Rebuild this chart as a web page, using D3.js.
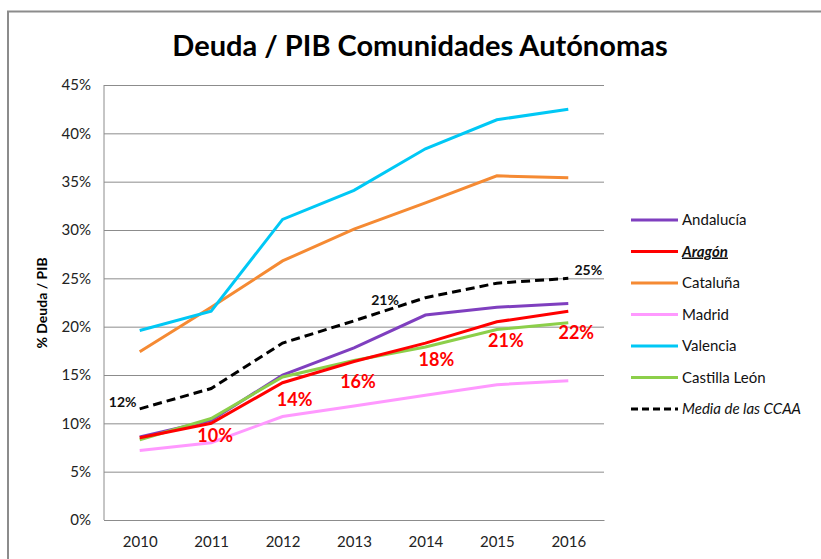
<!DOCTYPE html>
<html><head><meta charset="utf-8">
<script src="https://cdn.jsdelivr.net/npm/d3@7"></script>
<style>body{margin:0;background:#fff;}svg{display:block;font-family:Lato,"Open Sans",sans-serif;}</style>
</head><body><svg id="c" width="821" height="559"></svg>
<script>
const years = ["2010","2011","2012","2013","2014","2015","2016"];
const andalucia = [8.6,10.3,15.0,17.8,21.2,22.0,22.4];
const aragon    = [8.5,10.0,14.2,16.4,18.3,20.5,21.6];
const cataluna  = [17.4,22.0,26.8,30.1,32.8,35.6,35.4];
const madrid    = [7.2,8.0,10.7,11.8,12.9,14.0,14.4];
const valencia  = [19.6,21.6,31.1,34.1,38.4,41.4,42.5];
const castilla  = [8.3,10.5,14.8,16.5,17.9,19.7,20.4];
const media     = [11.5,13.6,18.3,20.6,23.0,24.5,25.0];
const yTicks = [0,5,10,15,20,25,30,35,40,45];
const seriesNames = ["Andalucía","Aragón","Cataluña","Madrid","Valencia","Castilla León","Media de las CCAA"];
const seriesColors = ["#7f3fbf","#ff0000","#f58a33","#ff99ff","#00c8f5","#8ccf4a","#000000"];
const aragonLabels = [null,"10%","14%","16%","18%","21%","22%"];
const mediaLabels = ["12%",null,null,"21%",null,null,"25%"];

const svg = d3.select("#c");
const L=104, R=604, T=85, B=520;
const x = d3.scalePoint().domain(years).range([L,R]).padding(0.5);
const y = d3.scaleLinear().domain([0,45]).range([B,T]);

// frame
svg.append("path").attr("d","M8,570 L8,11.5 L830,11.5").attr("fill","none").attr("stroke","#8c8c8c").attr("stroke-width",2);

svg.append("text").attr("x",420).attr("y",56).attr("text-anchor","middle")
  .attr("font-size",29).attr("font-weight","bold").text("Deuda / PIB Comunidades Autónomas");

// grid
const ga = svg.append("g").attr("transform",`translate(${L},0)`)
  .call(d3.axisLeft(y).tickValues(yTicks).tickSize(-(R-L)).tickFormat(d=>d+"%"));
ga.select(".domain").remove();
ga.selectAll(".tick line").attr("stroke","#8c8c8c");
ga.selectAll(".tick text").attr("font-size",15).attr("fill","#222").attr("x",-13).attr("font-family","Lato,sans-serif");
svg.append("line").attr("x1",L).attr("x2",L).attr("y1",T).attr("y2",B).attr("stroke","#8c8c8c");

const gx = svg.append("g").attr("transform",`translate(0,${B})`).call(d3.axisBottom(x).tickSize(0));
gx.select(".domain").attr("stroke","#8c8c8c");
gx.selectAll(".tick text").attr("font-size",15).attr("fill","#222").attr("dy","1.6em").attr("font-family","Lato,sans-serif");

svg.append("text").attr("transform","translate(47,303) rotate(-90)").attr("text-anchor","middle")
  .attr("font-size",14).attr("font-weight","bold").text("% Deuda / PIB");

const data = [andalucia,aragon,cataluna,madrid,valencia,castilla,media];
const line = d3.line().x((d,i)=>x(years[i])).y(d=>y(d));
const order = [2,4,3,0,5,1,6];
order.forEach(k=>{
  svg.append("path").datum(data[k]).attr("d",line).attr("fill","none")
    .attr("stroke",seriesColors[k]).attr("stroke-width",3)
    .attr("stroke-dasharray",k===6?"9,5":null);
});

// labels
const aOff = [[0,0],[4,19],[12,23],[4,27],[11,23],[9,25],[8,28]];
aragonLabels.forEach((t,i)=>{ if(!t) return;
  svg.append("text").attr("x",x(years[i])+aOff[i][0]).attr("y",y(aragon[i])+aOff[i][1])
   .attr("text-anchor","middle").attr("font-size",18).attr("font-weight","bold").attr("fill","#ff0000").text(t);
});
const mOff = [[-17,-2],[0,0],[0,0],[31,-16],[0,0],[0,0],[20,-3]];
mediaLabels.forEach((t,i)=>{ if(!t) return;
  svg.append("text").attr("x",x(years[i])+mOff[i][0]).attr("y",y(media[i])+mOff[i][1])
   .attr("text-anchor","middle").attr("font-size",14).attr("font-weight","bold").attr("fill","#111").text(t);
});

// legend
const lg = svg.append("g");
seriesNames.forEach((n,i)=>{
  const yy = 220 + i*31.5;
  lg.append("line").attr("x1",631).attr("x2",678).attr("y1",yy).attr("y2",yy)
    .attr("stroke",seriesColors[i]).attr("stroke-width",3).attr("stroke-dasharray",i===6?"7,4":null);
  const t = lg.append("text").attr("x",682).attr("y",yy+5).attr("font-size",15).attr("fill","#111").text(n);
  if(i===1) t.attr("font-weight","bold").attr("font-style","italic").attr("text-decoration","underline");
  if(i===6) t.attr("font-style","italic");
});
</script></body></html>
